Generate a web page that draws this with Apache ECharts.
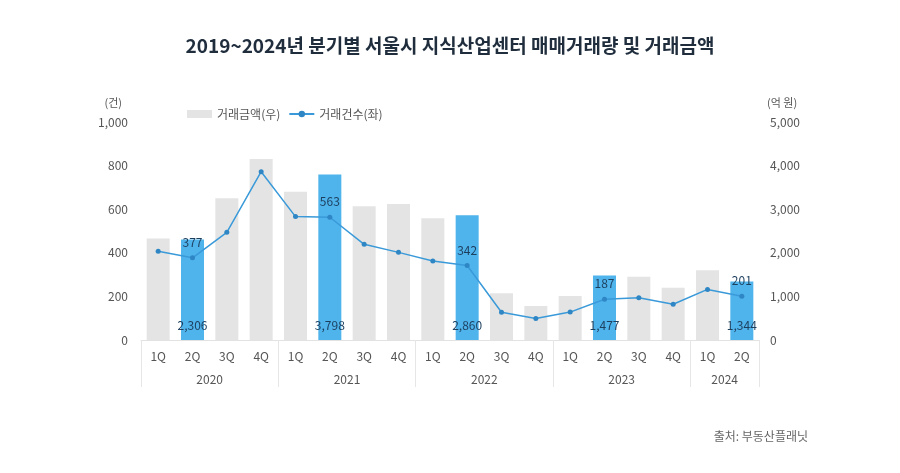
<!DOCTYPE html>
<html><head><meta charset="utf-8">
<script src="https://cdn.jsdelivr.net/npm/echarts@6/dist/echarts.min.js"></script>
<style>html,body{margin:0;padding:0;background:#fff}#c{width:900px;height:473px}</style>
</head><body><div id="c"></div>
<script>
const quarters = ['1Q','2Q','3Q','4Q','1Q','2Q','3Q','4Q','1Q','2Q','3Q','4Q','1Q','2Q','3Q','4Q','1Q','2Q'];
const years = ['2020','2021','2022','2023','2024'];
const yearSpans = [4,4,4,4,2];
const amount = [2330,2306,3250,4150,3400,3798,3070,3120,2790,2860,1070,780,1010,1477,1450,1200,1600,1344];
const count = [407,377,494,772,566,563,439,402,362,342,127,99,128,187,194,164,232,201];
const leftTicks = [0,200,400,600,800,1000];
const rightTicks = [0,1000,2000,3000,4000,5000];

const FONT = '"Noto Sans CJK KR", "Noto Sans", sans-serif';
const hl = quarters.map(q => q === '2Q');
const fmt = v => v.toLocaleString('en-US');

const bounds = [0]; yearSpans.forEach(s => bounds.push(bounds[bounds.length-1] + s));
const centers = yearSpans.map((s,i) => bounds[i] + s/2);

const chart = echarts.init(document.getElementById('c'));
chart.setOption({
  animation: false,
  textStyle: {fontFamily: FONT},
  title: [
    {text: '2019~2024년 분기별 서울시 지식산업센터 매매거래량 및 거래금액', left: 'center', top: 31,
     textStyle: {fontFamily: FONT, fontSize: 19, fontWeight: 'bold', color: '#1f2d3d'}},
    {text: '출처: 부동산플래닛', right: 87, top: 425,
     textStyle: {fontFamily: FONT, fontSize: 12, fontWeight: 'normal', color: '#666'}}
  ],
  legend: {
    left: 182, top: 103, itemWidth: 25, itemHeight: 8, itemGap: 8,
    textStyle: {fontFamily: FONT, fontSize: 12, color: '#555'},
    data: [{name: '거래금액(우)', icon: 'rect'}, {name: '거래건수(좌)'}]
  },
  grid: {left: 141, right: 141, top: 122, bottom: 133},
  xAxis: [
    {type: 'category', data: quarters, boundaryGap: true,
     axisLine: {lineStyle: {color: '#e2e2e2'}}, axisTick: {show: false},
     axisLabel: {margin: 10, color: '#555', fontSize: 12, fontFamily: FONT, interval: 0}},
    {type: 'value', min: 0, max: quarters.length, position: 'bottom',
     axisLine: {show: false}, splitLine: {show: false},
     axisTick: {show: true, length: 47, customValues: bounds, lineStyle: {color: '#e6e6e6'}},
     axisLabel: {margin: 33, color: '#555', fontSize: 12, fontFamily: FONT, customValues: centers,
       formatter: v => { const i = centers.findIndex(c => Math.abs(c - v) < 1e-6); return i >= 0 ? years[i] : ''; }}}
  ],
  yAxis: [
    {type: 'value', min: leftTicks[0], max: leftTicks[leftTicks.length-1], interval: leftTicks[1]-leftTicks[0],
     name: '(건)', nameLocation: 'end', nameGap: 14,
     nameTextStyle: {align: 'right', padding: [0, 19, 0, 0], color: '#555', fontSize: 11, fontFamily: FONT},
     axisLine: {show: false}, axisTick: {show: false}, splitLine: {show: false},
     axisLabel: {margin: 13, color: '#555', fontSize: 12, fontFamily: FONT, formatter: v => fmt(v)}},
    {type: 'value', min: rightTicks[0], max: rightTicks[rightTicks.length-1], interval: rightTicks[1]-rightTicks[0],
     name: '(억 원)', nameLocation: 'end', nameGap: 14,
     nameTextStyle: {align: 'left', padding: [0, 0, 0, 8], color: '#555', fontSize: 11, fontFamily: FONT},
     axisLine: {show: false}, axisTick: {show: false}, splitLine: {show: false},
     axisLabel: {margin: 11, color: '#555', fontSize: 12, fontFamily: FONT, formatter: v => fmt(v)}}
  ],
  series: [
    {name: '거래금액(우)', type: 'bar', xAxisIndex: 0, yAxisIndex: 1, barWidth: 23,
     itemStyle: {color: '#e4e4e4'},
     data: amount.map((v, i) => hl[i] ? {
       value: v, itemStyle: {color: '#4fb3ec'},
       label: {show: true, position: 'insideBottom', distance: 9, formatter: p => fmt(p.value),
               color: '#1d3f5e', fontSize: 12, fontFamily: FONT}
     } : {value: v})},
    {name: '거래건수(좌)', type: 'line', xAxisIndex: 0, yAxisIndex: 0,
     symbol: 'circle', symbolSize: 5, lineStyle: {color: '#3a9ad9', width: 1.5},
     itemStyle: {color: '#2f86c4'},
     data: count.map((v, i) => hl[i] ? {
       value: v, label: {show: true, position: 'top', distance: 7, formatter: p => fmt(p.value),
               color: '#1d3f5e', fontSize: 12, fontFamily: FONT}
     } : {value: v}), z: 5}
  ]
});
</script></body></html>
